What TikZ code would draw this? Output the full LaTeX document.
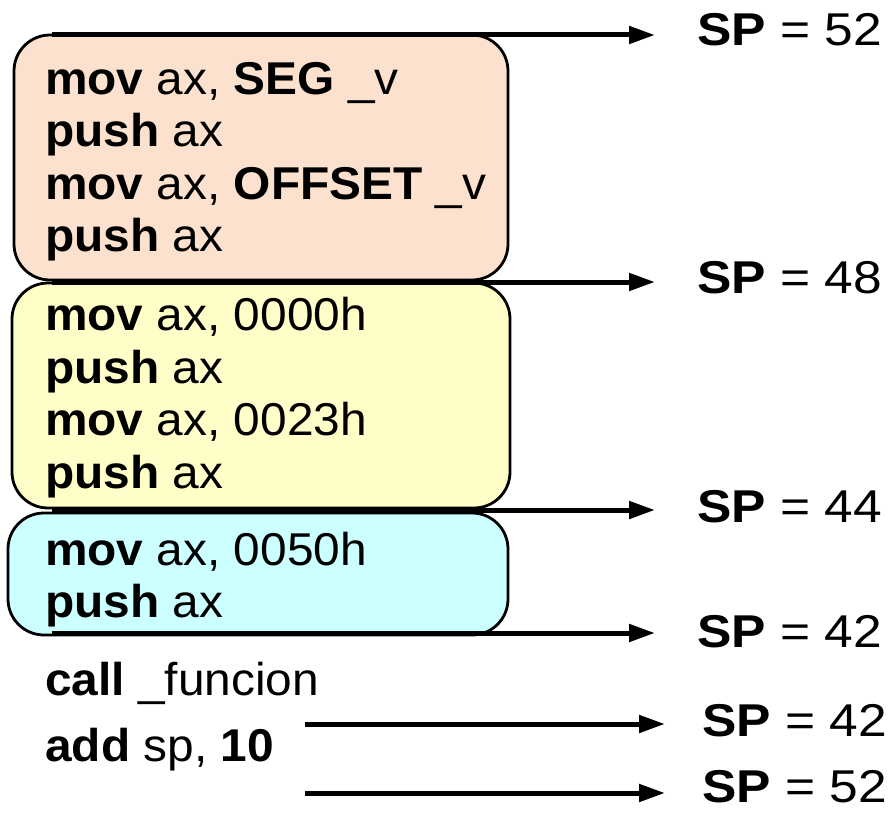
\documentclass[tikz,border=0pt]{standalone}
\usepackage{fontspec}
\usetikzlibrary{arrows.meta}
\newfontfamily\codefont{Liberation Sans}[FakeStretch=1.04]
\newfontfamily\spfont{Liberation Sans}[FakeStretch=1.12]
\definecolor{peach}{HTML}{FCE2CE}
\definecolor{lyellow}{HTML}{FFFDC8}
\definecolor{lcyan}{HTML}{CCFFFF}
\begin{document}
\begin{tikzpicture}[x=1pt,y=-1pt,
  blk/.style={draw=black,line width=2.8pt,rounded corners=36pt},
  code/.style={anchor=base west,inner sep=0pt,font=\codefont\fontsize{46}{52}\selectfont},
  sptext/.style={anchor=base west,inner sep=0pt,text depth=0pt,font=\spfont\fontsize{46}{52}\selectfont},
  sparrow/.style={line width=5pt,-{Triangle[length=26pt,width=17pt]}}]
\useasboundingbox (0,0) rectangle (893,813);
% boxes
\draw[blk,fill=peach]   (14,35)  rectangle (508,280);
\draw[blk,fill=lyellow] (12,283) rectangle (510,508);
\draw[blk,fill=lcyan]   (8,513)  rectangle (508,635);
% code lines
\node[code] (c1) at (45,95)  {\textbf{mov} ax, \textbf{SEG} \_v};
\node[code] (c2) at (45,147) {\textbf{push} ax};
\node[code] (c3) at (45,199) {\textbf{mov} ax, \textbf{OFFSET} \_v};
\node[code] (c4) at (45,251) {\textbf{push} ax};
\node[code] (c5) at (45,330) {\textbf{mov} ax, 0000h};
\node[code] (c6) at (45,383) {\textbf{push} ax};
\node[code] (c7) at (45,435) {\textbf{mov} ax, 0023h};
\node[code] (c8) at (45,488) {\textbf{push} ax};
\node[code] (c9) at (45,565) {\textbf{mov} ax, 0050h};
\node[code] (c10) at (45,617) {\textbf{push} ax};
\node[code] (c11) at (45,695) {\textbf{call} \_funcion};
\node[code] (c12) at (45,761) {\textbf{add} sp, \textbf{10}};
% SP labels
\node[sptext] (s1) at (697,46)  {\textbf{SP} = 52};
\node[sptext] (s2) at (697,293) {\textbf{SP} = 48};
\node[sptext] (s3) at (697,522) {\textbf{SP} = 44};
\node[sptext] (s4) at (697,647) {\textbf{SP} = 42};
\node[sptext] (s5) at (702,736) {\textbf{SP} = 42};
\node[sptext] (s6) at (702,802) {\textbf{SP} = 52};
% arrows
\coordinate (a1s) at (52,35);  \coordinate (a1e) at (655,35);
\coordinate (a2s) at (52,282); \coordinate (a2e) at (655,282);
\coordinate (a3s) at (52,510); \coordinate (a3e) at (655,510);
\coordinate (a4s) at (52,633); \coordinate (a4e) at (655,633);
\coordinate (a5s) at (305,724); \coordinate (a5e) at (665,724);
\coordinate (a6s) at (305,793); \coordinate (a6e) at (665,793);
\draw[sparrow] (a1s) -- (a1e);
\draw[sparrow] (a2s) -- (a2e);
\draw[sparrow] (a3s) -- (a3e);
\draw[sparrow] (a4s) -- (a4e);
\draw[sparrow] (a5s) -- (a5e);
\draw[sparrow] (a6s) -- (a6e);
\end{tikzpicture}
\end{document}
